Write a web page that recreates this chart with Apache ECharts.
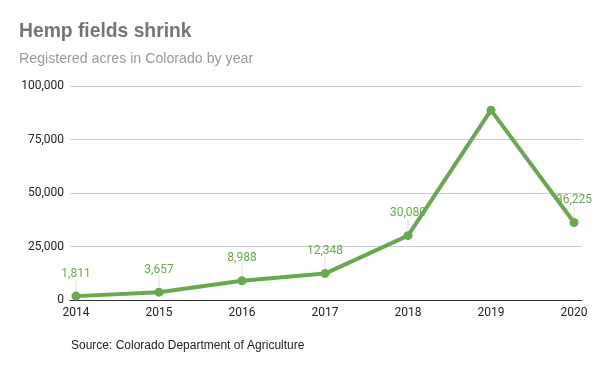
<!DOCTYPE html>
<html><head><meta charset="utf-8">
<script src="https://cdn.jsdelivr.net/npm/echarts@6/dist/echarts.min.js"></script>
<style>html,body{margin:0;padding:0;background:#fff}#c{width:600px;height:371px}</style>
</head><body><div id="c"></div>
<script>
const years = [2014, 2015, 2016, 2017, 2018, 2019, 2020];
const acres = [1811, 3657, 8988, 12348, 30080, 88700, 36225];
const showLabel = [true, true, true, true, true, false, true];
const yTicks = [0, 25000, 50000, 75000, 100000];

const chart = echarts.init(document.getElementById('c'));
const fmt = v => Math.round(v).toLocaleString('en-US');
const arial = "'Liberation Sans', Arial, sans-serif";
chart.setOption({
  animation: false,
  textStyle: { fontFamily: 'Roboto' },
  title: [
    { text: 'Hemp fields shrink', left: 14, top: 17, textStyle: { fontSize: 19.3, fontWeight: 'bold', color: '#757575', fontFamily: arial } },
    { text: 'Registered acres in Colorado by year', left: 14, top: 47, textStyle: { fontSize: 14.2, fontWeight: 'normal', color: '#999999', fontFamily: arial } },
    { text: 'Source: Colorado Department of Agriculture', left: 66, top: 335, textStyle: { fontSize: 12, fontWeight: 'normal', color: '#222222', fontFamily: arial } }
  ],
  grid: { left: 70, right: 18, top: 86, bottom: 71 },
  xAxis: {
    type: 'value', min: 2013.928, max: 2020.096,
    splitLine: { show: false },
    axisLine: { show: true, lineStyle: { color: '#333333', width: 1 } },
    axisTick: { show: false },
    axisLabel: { customValues: years, color: '#222', fontSize: 12, margin: 7, formatter: v => String(v) }
  },
  yAxis: {
    type: 'value', min: 0, max: 100000, interval: 25000,
    axisLine: { show: false }, axisTick: { show: false },
    splitLine: { lineStyle: { color: '#cccccc', width: 1 } },
    axisLabel: { color: '#222', fontSize: 12, margin: 6, formatter: v => fmt(v) }
  },
  series: [
    {
      type: 'line',
      data: years.map((y, i) => ({ value: [y, acres[i]], label: { show: showLabel[i] }, labelLine: { show: showLabel[i] } })),
      lineStyle: { color: '#6aa84f', width: 4 },
      itemStyle: { color: '#6aa84f' },
      symbol: 'circle', symbolSize: 9,
      label: { show: true, position: 'top', distance: 4, color: '#6aa84f', fontSize: 12, formatter: p => fmt(p.value[1]) },
      labelLayout: { dy: -8 },
      labelLine: { show: true, lineStyle: { color: '#dddddd', width: 1 } }
    }
  ]
});
</script></body></html>
